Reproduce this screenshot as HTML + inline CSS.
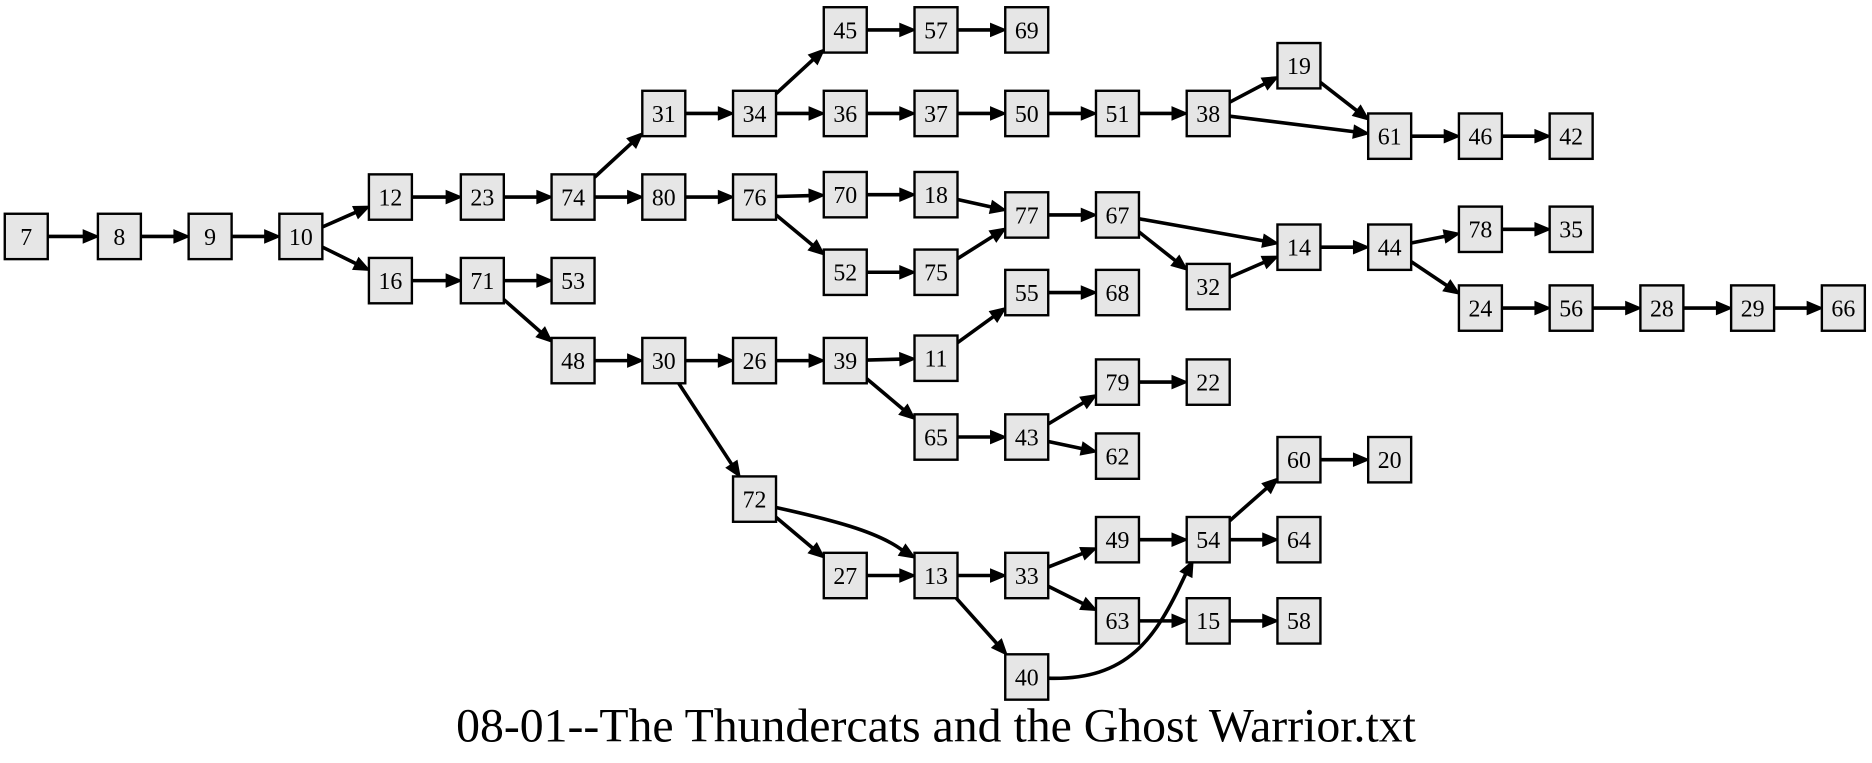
<!DOCTYPE html>
<html><head><meta charset="utf-8"><style>
html,body{margin:0;padding:0;background:#fff;}
svg{display:block;}
text{font-family:"Liberation Serif",serif;}
#nodes rect{fill:#e6e6e6;stroke:#000;stroke-width:2;}
</style></head><body>
<svg id="s" width="1872" height="763" viewBox="0 0 1568 639" xmlns="http://www.w3.org/2000/svg">
<rect width="1568" height="639" fill="#fff"/>
<g id="edges"></g>
<g id="nodes" font-size="20" text-anchor="middle">
<g transform="translate(22,198)"><rect x="-18" y="-19" width="36" height="38"/><text y="7">7</text></g>
<g transform="translate(100,198)"><rect x="-18" y="-19" width="36" height="38"/><text y="7">8</text></g>
<g transform="translate(176,198)"><rect x="-18" y="-19" width="36" height="38"/><text y="7">9</text></g>
<g transform="translate(252,198)"><rect x="-18" y="-19" width="36" height="38"/><text y="7">10</text></g>
<g transform="translate(327,165)"><rect x="-18" y="-19" width="36" height="38"/><text y="7">12</text></g>
<g transform="translate(327,235)"><rect x="-18" y="-19" width="36" height="38"/><text y="7">16</text></g>
<g transform="translate(404,165)"><rect x="-18" y="-19" width="36" height="38"/><text y="7">23</text></g>
<g transform="translate(404,235)"><rect x="-18" y="-19" width="36" height="38"/><text y="7">71</text></g>
<g transform="translate(480,165)"><rect x="-18" y="-19" width="36" height="38"/><text y="7">74</text></g>
<g transform="translate(480,235)"><rect x="-18" y="-19" width="36" height="38"/><text y="7">53</text></g>
<g transform="translate(480,302)"><rect x="-18" y="-19" width="36" height="38"/><text y="7">48</text></g>
<g transform="translate(556,95)"><rect x="-18" y="-19" width="36" height="38"/><text y="7">31</text></g>
<g transform="translate(556,165)"><rect x="-18" y="-19" width="36" height="38"/><text y="7">80</text></g>
<g transform="translate(556,302)"><rect x="-18" y="-19" width="36" height="38"/><text y="7">30</text></g>
<g transform="translate(632,95)"><rect x="-18" y="-19" width="36" height="38"/><text y="7">34</text></g>
<g transform="translate(632,165)"><rect x="-18" y="-19" width="36" height="38"/><text y="7">76</text></g>
<g transform="translate(632,302)"><rect x="-18" y="-19" width="36" height="38"/><text y="7">26</text></g>
<g transform="translate(632,418)"><rect x="-18" y="-19" width="36" height="38"/><text y="7">72</text></g>
<g transform="translate(708,25)"><rect x="-18" y="-19" width="36" height="38"/><text y="7">45</text></g>
<g transform="translate(708,95)"><rect x="-18" y="-19" width="36" height="38"/><text y="7">36</text></g>
<g transform="translate(708,163)"><rect x="-18" y="-19" width="36" height="38"/><text y="7">70</text></g>
<g transform="translate(708,228)"><rect x="-18" y="-19" width="36" height="38"/><text y="7">52</text></g>
<g transform="translate(708,302)"><rect x="-18" y="-19" width="36" height="38"/><text y="7">39</text></g>
<g transform="translate(708,482)"><rect x="-18" y="-19" width="36" height="38"/><text y="7">27</text></g>
<g transform="translate(784,25)"><rect x="-18" y="-19" width="36" height="38"/><text y="7">57</text></g>
<g transform="translate(784,95)"><rect x="-18" y="-19" width="36" height="38"/><text y="7">37</text></g>
<g transform="translate(784,163)"><rect x="-18" y="-19" width="36" height="38"/><text y="7">18</text></g>
<g transform="translate(784,228)"><rect x="-18" y="-19" width="36" height="38"/><text y="7">75</text></g>
<g transform="translate(784,300)"><rect x="-18" y="-19" width="36" height="38"/><text y="7">11</text></g>
<g transform="translate(784,366)"><rect x="-18" y="-19" width="36" height="38"/><text y="7">65</text></g>
<g transform="translate(784,482)"><rect x="-18" y="-19" width="36" height="38"/><text y="7">13</text></g>
<g transform="translate(860,25)"><rect x="-18" y="-19" width="36" height="38"/><text y="7">69</text></g>
<g transform="translate(860,95)"><rect x="-18" y="-19" width="36" height="38"/><text y="7">50</text></g>
<g transform="translate(860,180)"><rect x="-18" y="-19" width="36" height="38"/><text y="7">77</text></g>
<g transform="translate(860,245)"><rect x="-18" y="-19" width="36" height="38"/><text y="7">55</text></g>
<g transform="translate(860,366)"><rect x="-18" y="-19" width="36" height="38"/><text y="7">43</text></g>
<g transform="translate(860,482)"><rect x="-18" y="-19" width="36" height="38"/><text y="7">33</text></g>
<g transform="translate(860,567)"><rect x="-18" y="-19" width="36" height="38"/><text y="7">40</text></g>
<g transform="translate(936,95)"><rect x="-18" y="-19" width="36" height="38"/><text y="7">51</text></g>
<g transform="translate(936,180)"><rect x="-18" y="-19" width="36" height="38"/><text y="7">67</text></g>
<g transform="translate(936,245)"><rect x="-18" y="-19" width="36" height="38"/><text y="7">68</text></g>
<g transform="translate(936,320)"><rect x="-18" y="-19" width="36" height="38"/><text y="7">79</text></g>
<g transform="translate(936,382)"><rect x="-18" y="-19" width="36" height="38"/><text y="7">62</text></g>
<g transform="translate(936,452)"><rect x="-18" y="-19" width="36" height="38"/><text y="7">49</text></g>
<g transform="translate(936,520)"><rect x="-18" y="-19" width="36" height="38"/><text y="7">63</text></g>
<g transform="translate(1012,95)"><rect x="-18" y="-19" width="36" height="38"/><text y="7">38</text></g>
<g transform="translate(1012,240)"><rect x="-18" y="-19" width="36" height="38"/><text y="7">32</text></g>
<g transform="translate(1012,320)"><rect x="-18" y="-19" width="36" height="38"/><text y="7">22</text></g>
<g transform="translate(1012,452)"><rect x="-18" y="-19" width="36" height="38"/><text y="7">54</text></g>
<g transform="translate(1012,520)"><rect x="-18" y="-19" width="36" height="38"/><text y="7">15</text></g>
<g transform="translate(1088,55)"><rect x="-18" y="-19" width="36" height="38"/><text y="7">19</text></g>
<g transform="translate(1088,207)"><rect x="-18" y="-19" width="36" height="38"/><text y="7">14</text></g>
<g transform="translate(1088,385)"><rect x="-18" y="-19" width="36" height="38"/><text y="7">60</text></g>
<g transform="translate(1088,452)"><rect x="-18" y="-19" width="36" height="38"/><text y="7">64</text></g>
<g transform="translate(1088,520)"><rect x="-18" y="-19" width="36" height="38"/><text y="7">58</text></g>
<g transform="translate(1164,114)"><rect x="-18" y="-19" width="36" height="38"/><text y="7">61</text></g>
<g transform="translate(1164,207)"><rect x="-18" y="-19" width="36" height="38"/><text y="7">44</text></g>
<g transform="translate(1164,385)"><rect x="-18" y="-19" width="36" height="38"/><text y="7">20</text></g>
<g transform="translate(1240,114)"><rect x="-18" y="-19" width="36" height="38"/><text y="7">46</text></g>
<g transform="translate(1240,192)"><rect x="-18" y="-19" width="36" height="38"/><text y="7">78</text></g>
<g transform="translate(1240,258)"><rect x="-18" y="-19" width="36" height="38"/><text y="7">24</text></g>
<g transform="translate(1316,114)"><rect x="-18" y="-19" width="36" height="38"/><text y="7">42</text></g>
<g transform="translate(1316,192)"><rect x="-18" y="-19" width="36" height="38"/><text y="7">35</text></g>
<g transform="translate(1316,258)"><rect x="-18" y="-19" width="36" height="38"/><text y="7">56</text></g>
<g transform="translate(1392,258)"><rect x="-18" y="-19" width="36" height="38"/><text y="7">28</text></g>
<g transform="translate(1468,258)"><rect x="-18" y="-19" width="36" height="38"/><text y="7">29</text></g>
<g transform="translate(1544,258)"><rect x="-18" y="-19" width="36" height="38"/><text y="7">66</text></g>
</g>
<text x="784" y="621" font-size="40" text-anchor="middle">08-01--The Thundercats and the Ghost Warrior.txt</text>
</svg>
<script>
(function(){
var P={};
document.querySelectorAll('#nodes g').forEach(function(g){
 var m=g.getAttribute('transform').match(/translate\(([\d.]+),([\d.]+)\)/);
 P[g.textContent.trim()]=[+m[1],+m[2]];
});
var E="7-8 8-9 9-10 10-12 10-16 12-23 23-74 74-31 74-80 31-34 34-45 34-36 45-57 57-69 36-37 37-50 50-51 51-38 38-19 38-61 19-61 61-46 46-42 80-76 76-70 76-52 70-18 18-77 52-75 75-77 77-67 67-14 67-32 32-14 14-44 44-78 44-24 78-35 24-56 56-28 28-29 29-66 16-71 71-53 71-48 48-30 30-26 30-72 26-39 39-11 39-65 11-55 55-68 65-43 43-79 43-62 79-22 72-27 27-13 13-33 13-40 33-49 33-63 49-54 54-60 54-64 60-20 63-15 15-58".split(' ');
var G=document.getElementById('edges'),h='';
function clip(c,dx,dy){var tx=dx?18/Math.abs(dx):1e9,ty=dy?19/Math.abs(dy):1e9;var t=Math.min(tx,ty);return [c[0]+dx*t,c[1]+dy*t];}
function arrow(tip,ux,uy){var L=12,W=5;var bx=tip[0]-ux*L,by=tip[1]-uy*L;
 return '<polygon points="'+tip[0]+','+tip[1]+' '+(bx-uy*W)+','+(by+ux*W)+' '+(bx+uy*W)+','+(by-ux*W)+'" fill="#000" stroke="#000" stroke-width="1.5"/>';}
E.forEach(function(e){var p=e.split('-'),a=P[p[0]],b=P[p[1]];
 var dx=b[0]-a[0],dy=b[1]-a[1],d=Math.hypot(dx,dy),ux=dx/d,uy=dy/d;
 var s=clip(a,dx,dy),t=clip(b,-dx,-dy);
 var lx=t[0]-ux*10,ly=t[1]-uy*10;
 h+='<line x1="'+s[0]+'" y1="'+s[1]+'" x2="'+lx+'" y2="'+ly+'" stroke="#000" stroke-width="3"/>'+arrow(t,ux,uy);
});
h+='<path d="M650,425 C695,435 735,445 756,461" fill="none" stroke="#000" stroke-width="3"/>'+arrow([766,467],0.85,0.53);
h+='<path d="M878,568 C945,570 968,535 993,481" fill="none" stroke="#000" stroke-width="3"/>'+arrow([999,470],0.45,-0.9);
G.innerHTML=h;
})();
</script>
</body></html>
